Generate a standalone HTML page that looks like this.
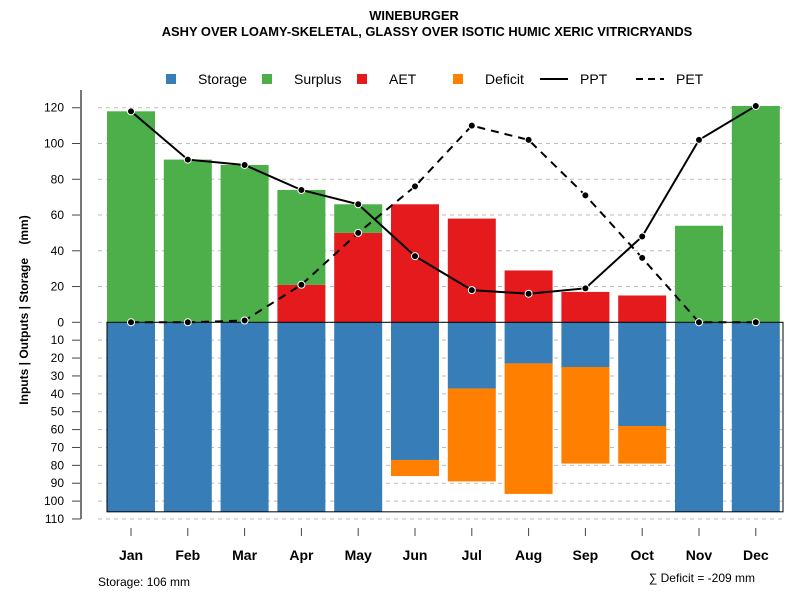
<!DOCTYPE html>
<html><head><meta charset="utf-8"><style>
body{margin:0;background:#fff}
svg text{font-family:"Liberation Sans",Arial,sans-serif}
</style></head><body>
<svg id="c" width="800" height="600" xmlns="http://www.w3.org/2000/svg">
<text x="414" y="20" text-anchor="middle" font-size="12.9" font-weight="bold">WINEBURGER</text>
<text x="427" y="36" text-anchor="middle" font-size="12.9" font-weight="bold">ASHY OVER LOAMY-SKELETAL, GLASSY OVER ISOTIC HUMIC XERIC VITRICRYANDS</text>
<g id="legend">
 <rect x="166" y="74" width="10" height="10" fill="#377eb8"/>
 <text x="198" y="84" font-size="14">Storage</text>
 <rect x="262" y="74" width="10" height="10" fill="#4daf4a"/>
 <text x="294" y="84" font-size="14">Surplus</text>
 <rect x="357" y="74" width="10" height="10" fill="#e41a1c"/>
 <text x="389" y="84" font-size="14">AET</text>
 <rect x="453" y="74" width="10" height="10" fill="#ff7f00"/>
 <text x="485" y="84" font-size="14">Deficit</text>
 <line x1="540" y1="79" x2="568" y2="79" stroke="#000" stroke-width="2"/>
 <text x="580" y="84" font-size="14">PPT</text>
 <line x1="636" y1="79" x2="664" y2="79" stroke="#000" stroke-width="2" stroke-dasharray="7,5"/>
 <text x="676" y="84" font-size="14">PET</text>
</g>
<g id="grid"></g><g id="bars"></g><g id="lines"></g><g id="axes"></g>
<text x="98" y="586" font-size="12">Storage: 106 mm</text>
<text x="755" y="582" text-anchor="end" font-size="12">∑ Deficit = -209 mm</text>
<text transform="translate(28,310) rotate(-90)" text-anchor="middle" font-size="12" font-weight="bold" xml:space="preserve">Inputs | Outputs | Storage    (mm)</text>
</svg>
<script>
const months=["Jan","Feb","Mar","Apr","May","Jun","Jul","Aug","Sep","Oct","Nov","Dec"];
const storage=[106,106,106,106,106,77,37,23,25,58,106,106];
const deficit=[0,0,0,0,0,9,52,73,54,21,0,0];
const aet=[0,0,0,21,50,66,58,29,17,15,0,0];
const surplus=[118,91,88,53,16,0,0,0,0,0,54,121];
const ppt=[118,91,88,74,66,37,18,16,19,48,102,121];
const pet=[0,0,1,21,50,76,110,102,71,36,0,0];
const upTicks=[0,20,40,60,80,100,120];
const downTicks=[10,20,30,40,50,60,70,80,90,100,110];
const NS="http://www.w3.org/2000/svg";
const y0=322.3,k=1.788;
const yUp=v=>y0-v*k, yDn=v=>y0+v*k;
const xC=i=>131+i*56.8;
const bw=48;
function mk(p,t,a){const e=document.createElementNS(NS,t);for(const n in a)e.setAttribute(n,a[n]);document.getElementById(p).appendChild(e);return e;}
upTicks.concat(downTicks.map(v=>-v)).forEach(v=>{
 const y=v>=0?yUp(v):yDn(-v);
 const g=mk("grid","line",{x1:98,x2:783,y1:y,y2:y,stroke:"#bbb","stroke-dasharray":"4,4"});
 
 
 const t=mk("axes","line",{x1:72,x2:81,y1:y,y2:y,stroke:"#444"});
 
 
 const l=mk("axes","text",{x:64,y:y+4,"text-anchor":"end","font-size":12});
 l.textContent=Math.abs(v);
 
 
});
const ax=mk("axes","line",{x1:81,x2:81,y1:90,y2:519,stroke:"#777","stroke-width":2});


months.forEach((m,i)=>{
 const x=xC(i)-bw/2;
 const s=mk("bars","rect",{x:x,y:y0,width:bw,height:storage[i]*k,fill:"#377eb8"});
 
 
 if(deficit[i]>0){const d=mk("bars","rect",{x:x,y:yDn(storage[i]),width:bw,height:deficit[i]*k,fill:"#ff7f00"});
 
 }
 if(aet[i]>0){const a=mk("bars","rect",{x:x,y:yUp(aet[i]),width:bw,height:aet[i]*k,fill:"#e41a1c"});
 
 }
 if(surplus[i]>0){const u=mk("bars","rect",{x:x,y:yUp(aet[i]+surplus[i]),width:bw,height:surplus[i]*k,fill:"#4daf4a"});
 
 }
 const tk=mk("axes","line",{x1:xC(i),x2:xC(i),y1:528,y2:536,stroke:"#444"});
 
 
 const lb=mk("axes","text",{x:xC(i),y:560,"text-anchor":"middle","font-size":14,"font-weight":"bold"});
 lb.textContent=m;
 
 
});
const bx=mk("bars","rect",{x:107,y:y0,width:676,height:106*k,fill:"none",stroke:"#000","stroke-width":1});


function series(arr,dash,name){
 const p=mk("lines","polyline",{points:arr.map((v,i)=>xC(i)+","+yUp(v)).join(" "),fill:"none",stroke:"#000","stroke-width":2,"stroke-dasharray":dash});
 
 
 arr.forEach((v,i)=>{const c=mk("lines","circle",{cx:xC(i),cy:yUp(v),r:3.5,fill:"#000",stroke:"#fff","stroke-width":1});
 
 });
}
series(pet,"8,6","pet");
series(ppt,"none","ppt");
</script>
</body></html>
